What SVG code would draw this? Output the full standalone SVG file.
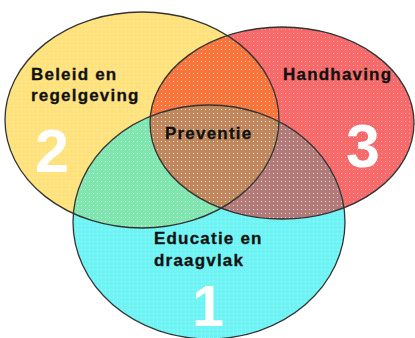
<svg xmlns="http://www.w3.org/2000/svg" width="415" height="338" viewBox="0 0 415 338">
  <defs>
    <clipPath id="clipY"><ellipse cx="142" cy="120" rx="137" ry="108"/></clipPath>
    <clipPath id="clipR"><ellipse cx="282" cy="123" rx="132" ry="96"/></clipPath>
    <clipPath id="clipC"><ellipse cx="209" cy="222" rx="136" ry="117"/></clipPath>
    <pattern id="dots" width="4" height="4" patternUnits="userSpaceOnUse">
      <rect x="1" y="1" width="1" height="1" fill="#ffffff" opacity="0.45"/>
    </pattern>
  </defs>
  <style>
    .outline { fill: none; stroke: #333333; stroke-width: 1.3; }
    .lbl { font-family: "Liberation Sans", Arial, sans-serif; font-weight: bold; font-size: 17px; letter-spacing: 1.2px; fill: #111111; stroke: #111111; stroke-width: 0.3; }
    .num { font-family: "Liberation Sans", Arial, sans-serif; font-weight: bold; fill: #ffffff; text-anchor: middle; }
  </style>
  <rect width="415" height="338" fill="#ffffff"/>

  <g id="circle-2">
    <ellipse cx="142" cy="120" rx="137" ry="108" fill="#FFE27C"/>
  </g>
  <g id="circle-3">
    <ellipse cx="282" cy="123" rx="132" ry="96" fill="#F76A6A"/>
  </g>
  <g id="circle-1">
    <ellipse cx="209" cy="222" rx="136" ry="117" fill="#6EF4F4"/>
  </g>
  <g id="overlap-2-3" clip-path="url(#clipY)">
    <ellipse cx="282" cy="123" rx="132" ry="96" fill="#F7743A"/>
  </g>
  <g id="overlap-1-2" clip-path="url(#clipY)">
    <ellipse cx="209" cy="222" rx="136" ry="117" fill="#7EE6AE"/>
  </g>
  <g id="overlap-1-3" clip-path="url(#clipR)">
    <ellipse cx="209" cy="222" rx="136" ry="117" fill="#B37A7A"/>
  </g>
  <g id="preventie" clip-path="url(#clipY)">
    <g clip-path="url(#clipR)">
      <ellipse cx="209" cy="222" rx="136" ry="117" fill="#C0875C"/>
    </g>
  </g>
  <rect width="415" height="338" fill="url(#dots)" clip-path="url(#clipY)"/>
  <rect width="415" height="338" fill="url(#dots)" clip-path="url(#clipR)"/>
  <rect width="415" height="338" fill="url(#dots)" clip-path="url(#clipC)"/>

  <g id="outlines">
    <ellipse class="outline" cx="142" cy="120" rx="137" ry="108"/>
    <ellipse class="outline" cx="282" cy="123" rx="132" ry="96"/>
    <ellipse class="outline" cx="209" cy="222" rx="136" ry="117"/>
  </g>

  <g id="labels">
    <text class="lbl" x="31" y="80">Beleid en</text>
    <text class="lbl" x="31" y="101">regelgeving</text>
    <text class="lbl" x="283" y="80">Handhaving</text>
    <text class="lbl" x="165" y="139">Preventie</text>
    <text class="lbl" x="154" y="244">Educatie en</text>
    <text class="lbl" x="154" y="266">draagvlak</text>
    <text class="num" x="52" y="172" font-size="61">2</text>
    <text class="num" x="363" y="167" font-size="61">3</text>
    <text class="num" x="208" y="325.5" font-size="57">1</text>
  </g>
</svg>
